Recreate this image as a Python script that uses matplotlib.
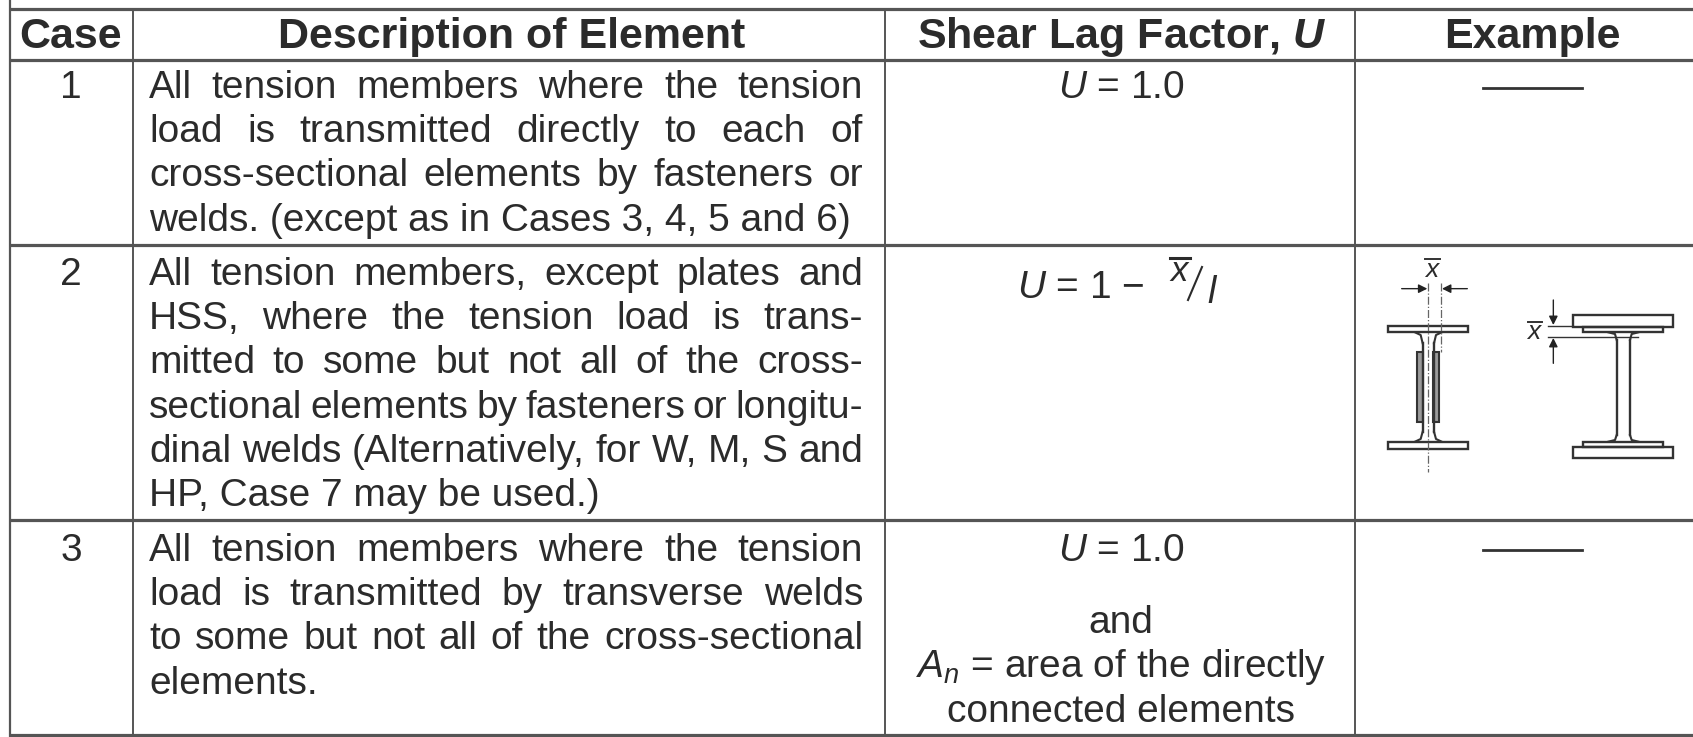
import matplotlib
matplotlib.use("Agg")
import matplotlib.pyplot as plt
from matplotlib.patches import Rectangle

plt.rcParams['font.family'] = ['Liberation Sans', 'DejaVu Sans']
plt.rcParams['mathtext.fontset'] = 'custom'
plt.rcParams['mathtext.rm'] = 'Liberation Sans'
plt.rcParams['mathtext.it'] = 'Liberation Sans:italic'
plt.rcParams['mathtext.bf'] = 'Liberation Sans:bold'
plt.rcParams['mathtext.bfit'] = 'Liberation Sans:italic:bold'

# table content
headers = ['Case', 'Description of Element', r'Shear Lag Factor, $\mathbfit{U}$', 'Example']
cases = ['1', '2', '3']
descriptions = [
    ['All tension members where the tension',
     'load is transmitted directly to each of',
     'cross-sectional elements by fasteners or',
     'welds. (except as in Cases 3, 4, 5 and 6)'],
    ['All tension members, except plates and',
     'HSS, where the tension load is trans-',
     'mitted to some but not all of the cross-',
     'sectional elements by fasteners or longitu-',
     'dinal welds (Alternatively, for W, M, S and',
     'HP, Case 7 may be used.)'],
    ['All tension members where the tension',
     'load is transmitted by transverse welds',
     'to some but not all of the cross-sectional',
     'elements.'],
]
row_baselines = [98, 285, 561]
row3_factor = ['$U$ = 1.0', 'and', '$A_n$ = area of the directly', 'connected elements']
row3_factor_y = [561, 633, 677, 722]

# table grid, pixels
col_x = [10, 133, 885, 1355]
row_y = [9, 60, 245, 520, 735]
desc_left, desc_right = 149, 863
line_h = 44.2
body_size = 28
ink = '#2b2b2b'
rule = '#555555'

fig = plt.figure(figsize=(16.93, 7.37), dpi=100)
ax = fig.add_axes([0, 0, 1, 1])
ax.set_xlim(0, 1693)
ax.set_ylim(737, 0)
ax.axis('off')

for y in row_y:
    ax.plot([col_x[0], 1693], [y, y], color=rule, lw=2.3, solid_capstyle='butt')
ax.plot([col_x[0], col_x[0]], [0, 737], color=rule, lw=1.6)
for x in col_x[1:]:
    ax.plot([x, x], [row_y[0], row_y[-1]], color=rule, lw=1.4)

# headers
head_cx = [71, 512, 1122, 1532]
for x, h in zip(head_cx, headers):
    ax.text(x, 48, h, ha='center', va='baseline', fontsize=31, fontweight='bold', color=ink)

fig.canvas.draw()
rend = fig.canvas.get_renderer()


def justified(words, y, left, right, size=body_size):
    # spread the words over the column like the typeset original
    items = [ax.text(left, y, w, va='baseline', fontsize=size, color=ink) for w in words]
    widths = [t.get_window_extent(rend).width for t in items]
    gap = (right - left - sum(widths)) / max(len(words) - 1, 1)
    x = left
    for t, w in zip(items, widths):
        t.set_x(x)
        x += w + gap


for case, lines, y0 in zip(cases, descriptions, row_baselines):
    ax.text(71, y0, case, ha='center', va='baseline', fontsize=body_size, color=ink)
    for i, line in enumerate(lines):
        y = y0 + i * line_h
        if i == len(lines) - 1:
            ax.text(desc_left, y, line, va='baseline', fontsize=body_size, color=ink)
        else:
            justified(line.split(), y, desc_left, desc_right)

# shear lag factor column
ax.text(1121, 98, '$U$ = 1.0', ha='center', va='baseline', fontsize=body_size, color=ink)
ax.text(1017, 298, '$U$ = 1 \u2212', ha='left', va='baseline', fontsize=body_size, color=ink)
ax.text(1180, 281, r'$x$', ha='center', va='baseline', fontsize=25, color=ink)
ax.plot([1170, 1190], [258, 258], color=ink, lw=2.2)
ax.plot([1188, 1202], [300, 267], color=ink, lw=1.5)
ax.text(1213, 303, '$l$', ha='center', va='baseline', fontsize=27, color=ink)
for s, y in zip(row3_factor, row3_factor_y):
    ax.text(1121, y, s, ha='center', va='baseline', fontsize=body_size, color=ink)

# example column dashes
for y in [88, 550]:
    ax.plot([1483, 1582], [y, y], color='#333333', lw=2)


# sketches, measured from a 3x crop
def zx(v):
    return 1300 + v / 3


def zy(v):
    return 240 + v / 3


def box(x0, y0, x1, y1, lw=1.7):
    ax.add_patch(Rectangle((zx(x0), zy(y0)), (x1 - x0) / 3, (y1 - y0) / 3,
                           fill=False, ec='#333333', lw=lw))


def seg(xs, ys, lw=1.7, ls='-', color='#333333'):
    ax.plot([zx(v) for v in xs], [zy(v) for v in ys], color=color, lw=lw, ls=ls)


def arrow(x0, y0, x1, y1):
    ax.annotate('', xy=(zx(x1), zy(y1)), xytext=(zx(x0), zy(y0)),
                arrowprops=dict(arrowstyle='-|>', color='#222222', lw=1, mutation_scale=13, shrinkA=0, shrinkB=0))


def xbar(x, y):
    ax.text(zx(x), zy(y), '$x$', ha='center', va='baseline', fontsize=19, color=ink)
    seg([x - 22, x + 22], [y - 52, y - 52], lw=1.4)


# left section, double angle to web
box(265, 257, 503, 277)
box(265, 605, 503, 627)
seg([368, 368], [310, 575])
seg([402, 402], [310, 575])
seg([345, 362, 368], [277, 285, 310], lw=1.5)
seg([425, 408, 402], [277, 285, 310], lw=1.5)
seg([345, 362, 368], [605, 597, 575], lw=1.5)
seg([425, 408, 402], [605, 597, 575], lw=1.5)
ax.add_patch(Rectangle((zx(350), zy(335)), 18 / 3, 210 / 3, fc='#9a9a9a', ec='#333333', lw=1.5))
ax.add_patch(Rectangle((zx(398), zy(335)), 19 / 3, 210 / 3, fc='#9a9a9a', ec='#333333', lw=1.5))
seg([385, 385], [130, 695], lw=0.9, ls='-.', color='#666666')
seg([423, 423], [130, 335], lw=0.9, ls='-.', color='#666666')
arrow(305, 146, 382, 146)
arrow(502, 146, 426, 146)
xbar(398, 110)

# right section, plate on flange
box(820, 225, 1120, 262)
box(850, 262, 1090, 277)
box(850, 605, 1090, 622)
box(820, 622, 1120, 655)
seg([950, 950], [300, 585])
seg([990, 990], [300, 585])
seg([925, 945, 950], [277, 282, 300], lw=1.5)
seg([1015, 995, 990], [277, 282, 300], lw=1.5)
seg([925, 945, 950], [605, 600, 585], lw=1.5)
seg([1015, 995, 990], [605, 600, 585], lw=1.5)
seg([745, 820], [257, 257], lw=1)
seg([745, 1015], [292, 292], lw=1)
arrow(760, 180, 760, 255)
arrow(760, 370, 760, 294)
xbar(705, 298)

fig.savefig('out.png', dpi=100, facecolor='white')
